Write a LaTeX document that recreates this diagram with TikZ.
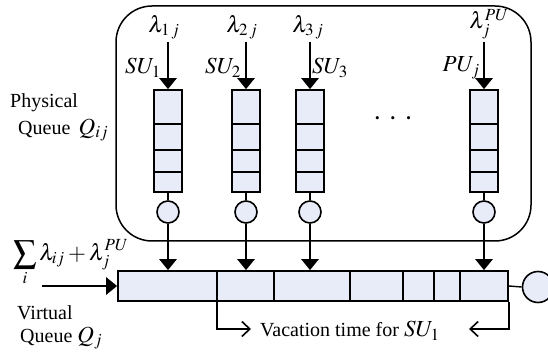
\documentclass[tikz,border=0pt]{standalone}
\usepackage{mathptmx}
\usepackage{fontspec}
\setmainfont{Liberation Serif}
\usetikzlibrary{arrows.meta}
\definecolor{qfill}{RGB}{232,236,248}
\newcommand{\mbig}{\fontsize{23}{26}\selectfont}
\tikzset{
  qbox/.style={draw, fill=qfill, line width=1.7pt, minimum width=28pt, minimum height=102pt, inner sep=0pt},
  srv/.style={draw, fill=qfill, circle, line width=1.6pt, minimum size=22pt, inner sep=0pt},
  divline/.style={line width=1.7pt},
  thinline/.style={line width=1.4pt},
  qarrow/.style={line width=2.6pt, -{Triangle[width=17pt,length=11pt]}},
  vac/.style={line width=1.6pt, -{Straight Barb[width=15pt,length=8pt,line width=1.6pt]}},
  frame/.style={line width=1.5pt, rounded corners=36pt},
  lbl/.style={inner sep=0pt, font=\fontsize{20}{24}\selectfont},
  mlbl/.style={inner sep=0pt, font=\mbig}
}
\begin{document}
\begin{tikzpicture}[x=1pt,y=-1pt]
\useasboundingbox (0,0) rectangle (548,352);
% physical queue frame
\draw[frame] (116,6) rectangle (531,241);
% virtual queue
\node[draw, fill=qfill, line width=1.7pt, minimum width=390pt, minimum height=30pt, inner sep=0pt] (vq) at (313,286) {};
\foreach \dx in {217,274,350,403,434,460}{
  \draw[divline] (\dx,271) -- (\dx,301);
}
\node[srv, minimum size=31pt] (vs) at (538,287) {};
\draw[thinline] (vq.east) -- (vs.west);
% physical queues
\foreach \n/\x in {1/168,2/246,3/310,4/484}{
  \node[qbox] (q\n) at (\x,141) {};
  \draw[divline] (\x-14,124) -- (\x+14,124);
  \draw[divline] (\x-14,150) -- (\x+14,150);
  \draw[divline] (\x-14,172) -- (\x+14,172);
  \node[srv] (s\n) at (\x,212) {};
  \draw[thinline] (q\n.south) -- (s\n.north);
  \coordinate (t\n) at (\x,42);
  \draw[qarrow] (t\n) -- (q\n.north);
  \draw[qarrow] (s\n.south) -- (s\n.south |- vq.north);
}
% labels on top
\node[mlbl] (l1) at (164,27) {$\lambda_{1\,j}$};
\node[mlbl] (l2) at (242,27) {$\lambda_{2\,j}$};
\node[mlbl] (l3) at (308,27) {$\lambda_{3\,j}$};
\node[mlbl] (l4) at (489,24) {$\lambda_j^{PU}$};
\node[mlbl, anchor=east] (u1) at (161,68) {$SU_1$};
\node[mlbl, anchor=east] (u2) at (241,68) {$SU_2$};
\node[mlbl, anchor=west] (u3) at (312,68) {$SU_3$};
\node[mlbl, anchor=east] (u4) at (480,68) {$PU_j$};
\node[inner sep=0pt, font=\fontsize{13}{13}\selectfont] (dots) at (393,120) {\textbullet\hspace{11pt}\textbullet\hspace{11pt}\textbullet};
% left labels
\node[lbl, anchor=west] (ph1) at (10,103) {Physical};
\node[lbl, anchor=west] (ph2) at (18,130) {Queue \,{\mbig$Q_{ij}$}};
\node[mlbl, anchor=west] (sum) at (13,263) {$\displaystyle\sum_i \lambda_{ij} + \lambda_j^{PU}$};
\node[lbl, anchor=west] (vt1) at (17,313) {Virtual};
\node[lbl, anchor=west] (vt2) at (20,338) {Queue {\mbig$Q_j$}};
% input arrow
\coordinate (in) at (42,286);
\draw[qarrow] (in) -- (vq.west);
% vacation time
\coordinate (va) at (217,301);
\coordinate (vb) at (251,329);
\coordinate (vc) at (469,329);
\draw[vac] (va) |- (vb);
\draw[vac] (vq.south east) |- (vc);
\node[lbl, anchor=west] (vt) at (260,331) {Vacation time for {\mbig$SU_1$}};
\end{tikzpicture}
\end{document}
